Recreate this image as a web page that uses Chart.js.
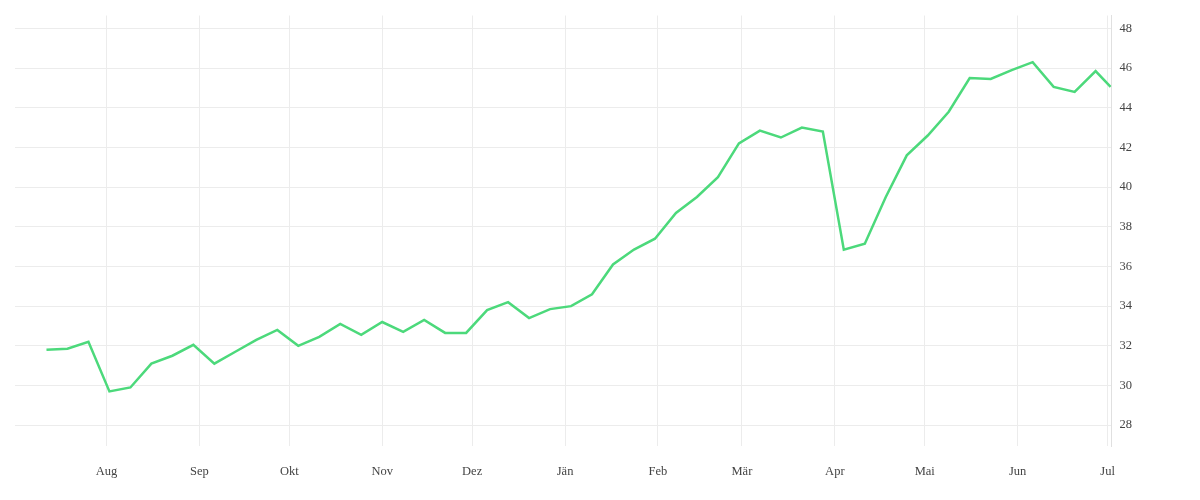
<!DOCTYPE html>
<html><head><meta charset="utf-8">
<script src="https://cdn.jsdelivr.net/npm/chart.js@4"></script>
<style>html,body{margin:0;background:#fff}#w{width:1200px;height:500px}</style>
</head><body><div id="w"><canvas id="c"></canvas></div>
<script>
// day offsets from 1 July
const days = [11,18,25,32,39,46,53,60,67,74,81,88,95,102,109,116,123,130,137,144,151,158,165,172,179,186,193,200,207,214,221,228,235,242,249,256,263,270,277,284,291,298,305,312,319,326,333,340,347,354,361,366];
const values = [31.8,31.85,32.2,29.7,29.9,31.1,31.5,32.05,31.1,31.7,32.3,32.8,32.0,32.45,33.1,32.55,33.2,32.7,33.3,32.65,32.65,33.8,34.2,33.4,33.85,34.0,34.6,36.1,36.85,37.4,38.7,39.5,40.5,42.2,42.85,42.5,43.0,42.8,36.85,37.15,39.5,41.6,42.6,43.8,45.5,45.45,45.9,46.3,45.05,44.8,45.85,45.05];
const monthDays = [31,62,92,123,153,184,215,243,274,304,335,365];
const monthLabels = ["Aug","Sep","Okt","Nov","Dez","Jän","Feb","Mär","Apr","Mai","Jun","Jul"];
const yTicks = [28,30,32,34,36,38,40,42,44,46,48];
const font = {family:"'Liberation Serif', serif", size:12.5};
new Chart(document.getElementById('c'), {
  type:'line',
  data:{datasets:[{data:days.map((d,i)=>({x:d,y:values[i]})),borderColor:'#4cd97b',borderWidth:2.5,pointRadius:0,tension:0}]},
  options:{responsive:true,maintainAspectRatio:false,animation:false,
    layout:{padding:{left:15,right:60,top:12,bottom:3}},
    plugins:{legend:{display:false},tooltip:{enabled:false}},
    scales:{
      x:{type:'linear',min:0.5,max:366.3,
        afterBuildTicks:a=>{a.ticks=monthDays.map(v=>({value:v}));},
        ticks:{callback:(v)=>monthLabels[monthDays.indexOf(v)],color:'#444',font,maxRotation:0,autoSkip:false,padding:18},
        grid:{color:'#ececec',drawTicks:false},border:{display:false}},
      y:{position:'right',min:26.95,max:48.65,
        afterBuildTicks:a=>{a.ticks=yTicks.map(v=>({value:v}));},
        ticks:{color:'#444',font,padding:8},
        grid:{color:'#ececec',drawTicks:false},border:{color:'#e0e0e0'}}
    }}
});
</script></body></html>
